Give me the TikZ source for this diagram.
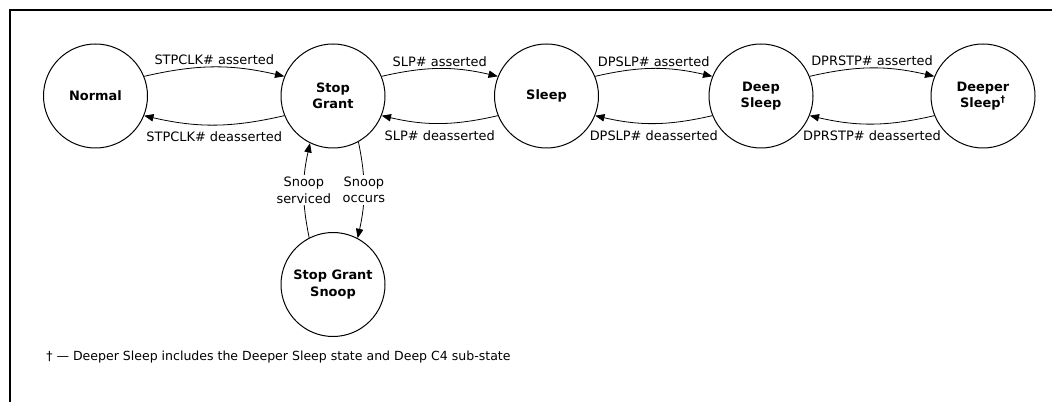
\documentclass[tikz,border=0pt]{standalone}
\usepackage{fontspec}
\setmainfont{DejaVu Sans}
\usetikzlibrary{arrows.meta}

\tikzset{
  state/.style={draw, circle, line width=0.75pt, minimum size=78pt, inner sep=0pt, align=center, font=\fontsize{9.7}{12.3}\selectfont\bfseries},
  trans/.style={-{Triangle[length=7pt,width=5.5pt]}, line width=0.6pt},
  lbl/.style={font=\fontsize{9.7}{12.3}\selectfont, inner sep=1.5pt, align=center},
}

\begin{document}
\begin{tikzpicture}[x=0.75pt,y=0.75pt,yscale=-1,xscale=1]
\useasboundingbox (0,0) rectangle (1052,402);

%Frame
\draw [line width=1.6pt] (10,402) -- (10,10) -- (1052,10) ;

% States
\node [state] (normal) at (95.5,96) {Normal};
\node [state] (stopgrant) at (333,96) {Stop\\Grant};
\node [state] (sleep) at (546.5,96) {Sleep};
\node [state] (deep) at (761,96) {Deep\\Sleep};
\node [state] (deeper) at (983,96) {Deeper\\Sleep\textsuperscript{†}};
\node [state] (snoop) at (333,284.5) {Stop Grant\\Snoop};

%Curve Lines (bend right, as the y axis is turned over)
\draw [trans] (normal.22) to [bend right=13] node [lbl, above] {STPCLK\# asserted} (stopgrant.158) ;
\draw [trans] (stopgrant.202) to [bend right=13] node [lbl, below=3.5pt] {STPCLK\# deasserted} (normal.-22) ;
\draw [trans] (stopgrant.22) to [bend right=13] node [lbl, above] {SLP\# asserted} (sleep.158) ;
\draw [trans] (sleep.202) to [bend right=13] node [lbl, below=3.5pt] {SLP\# deasserted} (stopgrant.-22) ;
\draw [trans] (sleep.22) to [bend right=13] node [lbl, above] {DPSLP\# asserted} (deep.158) ;
\draw [trans] (deep.202) to [bend right=13] node [lbl, below=3.5pt] {DPSLP\# deasserted} (sleep.-22) ;
\draw [trans] (deep.22) to [bend right=13] node [lbl, above] {DPRSTP\# asserted} (deeper.158) ;
\draw [trans] (deeper.202) to [bend right=13] node [lbl, below=3.5pt] {DPRSTP\# deasserted} (deep.-22) ;

%Snoop loop
\draw [trans] (snoop.117) to [bend right=12] node [lbl, fill=white] {Snoop\\serviced} (stopgrant.-116) ;
\draw [trans] (stopgrant.-61) to [bend right=12] node [lbl, fill=white] {Snoop\\occurs} (snoop.62) ;

% Text Node
\node [anchor=west, inner sep=0pt, font=\fontsize{9.4}{11}\selectfont] (note) at (46,357) {† — Deeper Sleep includes the Deeper Sleep state and Deep C4 sub-state};

\end{tikzpicture}
\end{document}
